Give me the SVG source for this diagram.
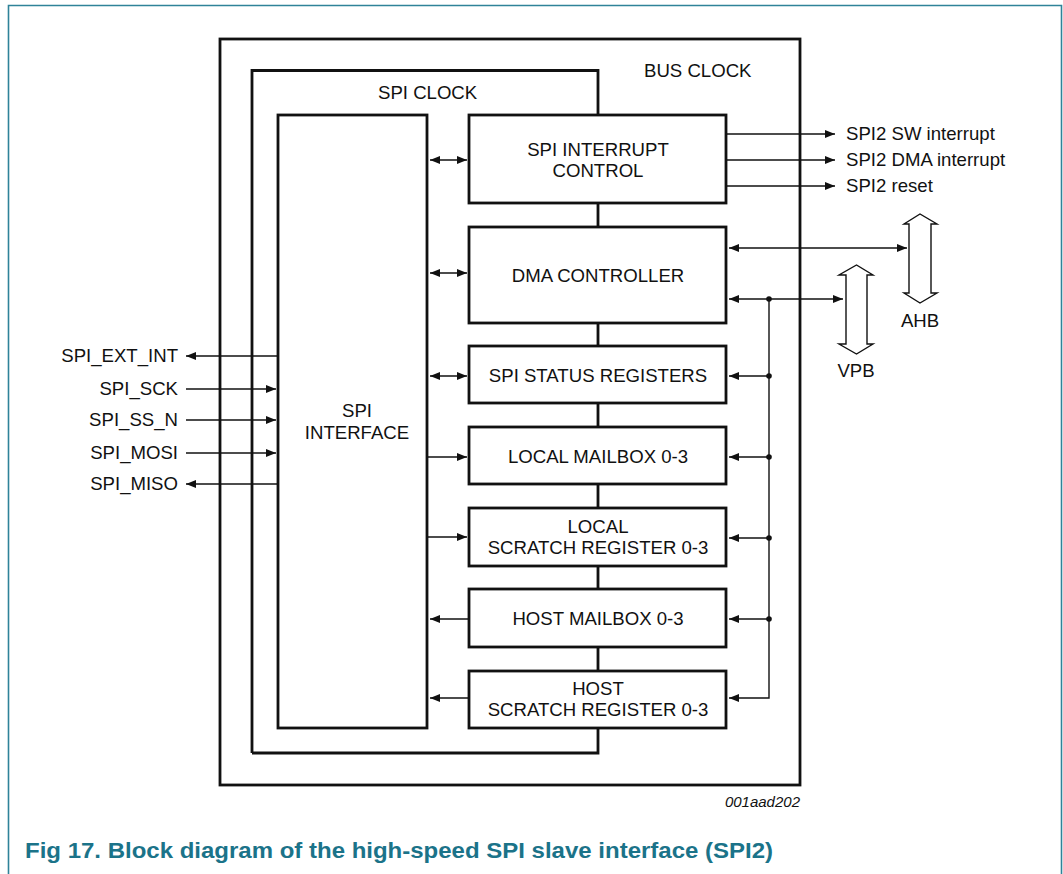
<svg xmlns="http://www.w3.org/2000/svg" width="1063" height="874" viewBox="0 0 1063 874">
<style>
text{font-family:"Liberation Sans",Arial,sans-serif;font-size:18.6px;fill:#111}
.c{text-anchor:middle}
.r{text-anchor:end}
.box{fill:#fff;stroke:#111;stroke-width:2.8}
.thick{fill:none;stroke:#111;stroke-width:2.8}
.ln{fill:none;stroke:#111;stroke-width:1.4}
.bus{fill:#fff;stroke:#111;stroke-width:1.4}
</style>
<defs>
<marker id="ah" viewBox="0 0 10 8" refX="10" refY="4" markerWidth="10" markerHeight="8" markerUnits="userSpaceOnUse" orient="auto-start-reverse">
<path d="M0,0 L10,4 L0,8 Z" fill="#111"/>
</marker>
</defs>
<rect width="1063" height="874" fill="#fff"/>
<g id="frame">
<path d="M8.5,874 V5.5 H1061.5 V874" fill="none" stroke="#2f8399" stroke-width="1.6"/>
</g>
<g id="bus-clock">
<rect x="220" y="39" width="580" height="746" class="thick"/>
<text x="644" y="77">BUS CLOCK</text>
</g>
<g id="spi-clock">
<path d="M252,753 V70.5 H598 V115 M598,728 V753 H252" class="thick"/>
<text x="378" y="99">SPI CLOCK</text>
</g>
<g id="connectors">
<path d="M598,203 V227 M598,323 V346 M598,403 V427 M598,484 V508 M598,566 V589 M598,647 V671" class="thick"/>
<path d="M430,160 H467" class="ln" marker-start="url(#ah)" marker-end="url(#ah)"/>
<path d="M430,273 H467" class="ln" marker-start="url(#ah)" marker-end="url(#ah)"/>
<path d="M430,376 H467" class="ln" marker-start="url(#ah)" marker-end="url(#ah)"/>
<path d="M427,457 H467" class="ln" marker-end="url(#ah)"/>
<path d="M427,537 H467" class="ln" marker-end="url(#ah)"/>
<path d="M469,619 H430" class="ln" marker-end="url(#ah)"/>
<path d="M469,698 H430" class="ln" marker-end="url(#ah)"/>
<path d="M726,134 H835" class="ln" marker-end="url(#ah)"/>
<path d="M726,160 H835" class="ln" marker-end="url(#ah)"/>
<path d="M726,186 H835" class="ln" marker-end="url(#ah)"/>
<path d="M729,248 H907" class="ln" marker-start="url(#ah)" marker-end="url(#ah)"/>
<path d="M729,299 H843" class="ln" marker-start="url(#ah)" marker-end="url(#ah)"/>
<path d="M769,299 V698 H729" class="ln" marker-end="url(#ah)"/>
<path d="M769,376 H729" class="ln" marker-end="url(#ah)"/>
<path d="M769,457 H729" class="ln" marker-end="url(#ah)"/>
<path d="M769,538 H729" class="ln" marker-end="url(#ah)"/>
<path d="M769,619 H729" class="ln" marker-end="url(#ah)"/>
<g fill="#111">
<circle cx="769" cy="299" r="2.8"/>
<circle cx="769" cy="376" r="2.8"/>
<circle cx="769" cy="457" r="2.8"/>
<circle cx="769" cy="538" r="2.8"/>
<circle cx="769" cy="619" r="2.8"/>
</g>
<path d="M278,356 H186" class="ln" marker-end="url(#ah)"/>
<path d="M186,389 H276" class="ln" marker-end="url(#ah)"/>
<path d="M186,420 H276" class="ln" marker-end="url(#ah)"/>
<path d="M186,453 H276" class="ln" marker-end="url(#ah)"/>
<path d="M278,484 H186" class="ln" marker-end="url(#ah)"/>
</g>
<g id="spi-interface">
<rect x="278" y="115" width="149" height="613" class="box"/>
<text x="357" y="417" class="c">SPI</text>
<text x="357" y="439" class="c">INTERFACE</text>
</g>
<g id="spi-interrupt-control">
<rect x="469" y="115" width="257" height="88" class="box"/>
<text x="598" y="156" class="c">SPI INTERRUPT</text>
<text x="598" y="177" class="c">CONTROL</text>
</g>
<g id="dma-controller">
<rect x="469" y="227" width="257" height="96" class="box"/>
<text x="598" y="282" class="c">DMA CONTROLLER</text>
</g>
<g id="spi-status-registers">
<rect x="469" y="346" width="257" height="57" class="box"/>
<text x="598" y="382" class="c">SPI STATUS REGISTERS</text>
</g>
<g id="local-mailbox">
<rect x="469" y="427" width="257" height="57" class="box"/>
<text x="598" y="463" class="c">LOCAL MAILBOX 0-3</text>
</g>
<g id="local-scratch">
<rect x="469" y="508" width="257" height="58" class="box"/>
<text x="598" y="533" class="c">LOCAL</text>
<text x="598" y="554" class="c">SCRATCH REGISTER 0-3</text>
</g>
<g id="host-mailbox">
<rect x="469" y="589" width="257" height="58" class="box"/>
<text x="598" y="625" class="c">HOST MAILBOX 0-3</text>
</g>
<g id="host-scratch">
<rect x="469" y="671" width="257" height="57" class="box"/>
<text x="598" y="695" class="c">HOST</text>
<text x="598" y="716" class="c">SCRATCH REGISTER 0-3</text>
</g>
<g id="ahb">
<path d="M909,293 V224 H904 L920,214 L937,224 H931 V293 H937 L920,303 L904,293 Z" class="bus"/>
<text x="920" y="327" class="c">AHB</text>
</g>
<g id="vpb">
<path d="M846,344 V275 H839 L856.5,265 L873,275 H867 V344 H873 L856.5,354 L839,344 Z" class="bus"/>
<text x="856" y="377" class="c">VPB</text>
</g>
<g id="outputs">
<text x="846" y="140">SPI2 SW interrupt</text>
<text x="846" y="166">SPI2 DMA interrupt</text>
<text x="846" y="192">SPI2 reset</text>
</g>
<g id="inputs">
<text x="178" y="362" class="r">SPI_EXT_INT</text>
<text x="178" y="395" class="r">SPI_SCK</text>
<text x="178" y="426" class="r">SPI_SS_N</text>
<text x="178" y="459" class="r">SPI_MOSI</text>
<text x="178" y="490" class="r">SPI_MISO</text>
</g>
<text x="800" y="807" class="r" style="font-size:15px;font-style:italic">001aad202</text>
<text x="25" y="858" style="font-size:22px;font-weight:bold;fill:#1b7389" textLength="748" lengthAdjust="spacingAndGlyphs">Fig 17. Block diagram of the high-speed SPI slave interface (SPI2)</text>
</svg>
